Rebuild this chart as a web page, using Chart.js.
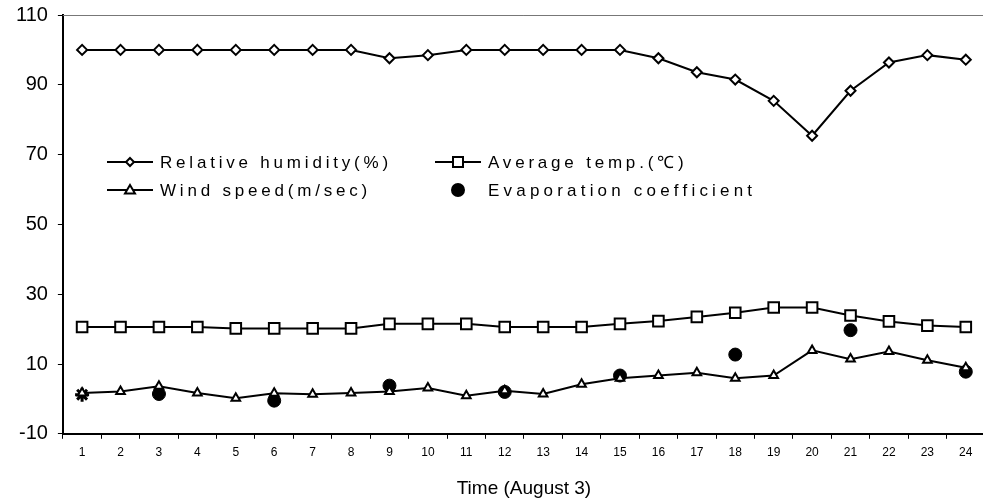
<!DOCTYPE html>
<html>
<head>
<meta charset="utf-8">
<script src="https://cdn.jsdelivr.net/npm/chart.js@4"></script>
<style>
  body { margin: 0; background: #fff; overflow: hidden; }
  #wrap { width: 995px; height: 508px; margin-top: -7px; }
</style>
</head>
<body>
<div id="wrap"><canvas id="myChart"></canvas></div>
<script>
var hours = ['1','2','3','4','5','6','7','8','9','10','11','12','13','14','15','16','17','18','19','20','21','22','23','24'];
var humidity = [100, 100, 100, 100, 100, 100, 100, 100, 97.6, 98.5, 100, 100, 100, 100, 100, 97.6, 93.6, 91.5, 85.4, 75.4, 88.3, 96.4, 98.5, 97.2];
var avgTemp = [20.6, 20.6, 20.6, 20.6, 20.2, 20.2, 20.2, 20.2, 21.5, 21.5, 21.5, 20.6, 20.6, 20.6, 21.5, 22.3, 23.5, 24.7, 26.2, 26.2, 23.9, 22.2, 21.0, 20.6];
var windSpeed = [1.7, 2.1, 3.6, 1.7, 0.2, 1.6, 1.3, 1.7, 2.1, 3.1, 0.9, 2.3, 1.4, 4.2, 5.9, 6.7, 7.5, 5.9, 6.7, 13.9, 11.4, 13.6, 11.1, 8.9];
var evapCoef = [1.2, null, 1.4, null, null, -0.5, null, null, 3.8, null, null, 2.0, null, null, 6.7, null, null, 12.7, null, null, 19.7, null, null, 7.8];
var yTicks = [-10, 10, 30, 50, 70, 90, 110];

// little marker painter for the legend
function marker(ctx, style, x, y, r) {
    ctx.beginPath();
    if (style === 'rectRot') {
        ctx.moveTo(x, y - r); ctx.lineTo(x + r, y); ctx.lineTo(x, y + r); ctx.lineTo(x - r, y); ctx.closePath();
    } else if (style === 'rect') {
        ctx.rect(x - r, y - r, 2 * r, 2 * r);
    } else if (style === 'triangle') {
        ctx.moveTo(x, y - r); ctx.lineTo(x + r, y + r * 0.7); ctx.lineTo(x - r, y + r * 0.7); ctx.closePath();
    } else {
        ctx.arc(x, y, r, 0, Math.PI * 2);
    }
}

var insideLegend = {
    id: 'insideLegend',
    afterDraw: function(chart) {
        var ctx = chart.ctx;
        // legend rows sit inside the plot, offset for the 7px wrap shift
        var items = [
            {text: 'Relative humidity(%)', style: 'rectRot', r: 4, line: true, x: 107, y: 169},
            {text: 'Average temp.(\u2103)', style: 'rect', r: 5, line: true, x: 435, y: 169},
            {text: 'Wind speed(m/sec)', style: 'triangle', r: 5, line: true, x: 107, y: 197},
            {text: 'Evaporation coefficient', style: 'circle', r: 6, line: false, x: 435, y: 197}
        ];
        ctx.save();
        items.forEach(function(it) {
            ctx.strokeStyle = '#000';
            ctx.lineWidth = 2;
            if (it.line) {
                ctx.beginPath(); ctx.moveTo(it.x, it.y); ctx.lineTo(it.x + 46, it.y); ctx.stroke();
            }
            marker(ctx, it.style, it.x + 23, it.y, it.r);
            ctx.fillStyle = it.line ? '#fff' : '#000';
            ctx.fill();
            ctx.stroke();
            ctx.fillStyle = '#000';
            ctx.font = '17px "Liberation Sans", Arial, sans-serif';
            ctx.letterSpacing = it.line ? '3.8px' : '4.2px';
            ctx.textBaseline = 'middle';
            ctx.fillText(it.text, it.x + 53, it.y + 1);
        });
        // grey frame line on top
        var a = chart.chartArea;
        ctx.letterSpacing = '0px';
        ctx.strokeStyle = '#777';
        ctx.lineWidth = 1;
        ctx.beginPath(); ctx.moveTo(a.left, a.top + 0.5); ctx.lineTo(a.right, a.top + 0.5); ctx.stroke();
        ctx.restore();
    }
};

var ctx = document.getElementById('myChart').getContext('2d');
var myChart = new Chart(ctx, {
    type: 'line',
    data: {
        labels: hours,
        datasets: [{
            label: 'Relative humidity(%)',
            data: humidity,
            borderColor: '#000',
            borderWidth: 2,
            pointStyle: 'rectRot',
            pointRadius: 5,
            pointBorderWidth: 2,
            pointBackgroundColor: '#fff',
            pointBorderColor: '#000'
        }, {
            label: 'Average temp.(\u2103)',
            data: avgTemp,
            borderColor: '#000',
            borderWidth: 2,
            pointStyle: 'rect',
            pointRadius: 7.5,
            pointBorderWidth: 2,
            pointBackgroundColor: '#fff',
            pointBorderColor: '#000'
        }, {
            label: 'Wind speed(m/sec)',
            data: windSpeed,
            borderColor: '#000',
            borderWidth: 2,
            pointStyle: 'triangle',
            pointRadius: 5,
            pointBorderWidth: 2,
            pointBackgroundColor: '#fff',
            pointBorderColor: '#000'
        }, {
            label: 'Evaporation coefficient',
            data: evapCoef,
            showLine: false,
            pointStyle: hours.map(function(h, i) { return i === 0 ? 'star' : 'circle'; }),
            pointRadius: hours.map(function(h, i) { return i === 0 ? 7 : 6.5; }),
            pointBorderWidth: hours.map(function(h, i) { return i === 0 ? 3 : 1; }),
            pointBackgroundColor: '#000',
            pointBorderColor: '#000'
        }]
    },
    options: {
        responsive: true,
        maintainAspectRatio: false,
        animation: false,
        layout: { padding: { top: 2, left: 6, right: 0, bottom: 1 } },
        plugins: {
            legend: { display: false },
            tooltip: { enabled: false }
        },
        scales: {
            x: {
                offset: true,
                grid: { offset: true, drawOnChartArea: false, tickLength: 5, color: '#000' },
                border: { color: '#000', width: 2 },
                ticks: { color: '#000', font: { size: 12, family: '"Liberation Sans", Arial' }, padding: 7 },
                title: {
                    display: true,
                    text: 'Time (August 3)',
                    color: '#000',
                    font: { size: 19, family: '"Liberation Sans", Arial' },
                    padding: { top: 10, bottom: 0 }
                }
            },
            y: {
                min: -10,
                max: 110,
                afterBuildTicks: function(axis) {
                    axis.ticks = yTicks.map(function(v) { return { value: v }; });
                },
                grid: { drawOnChartArea: false, tickLength: 5, color: '#000' },
                border: { color: '#000', width: 2 },
                ticks: { color: '#000', font: { size: 20, family: '"Liberation Sans", Arial' }, padding: 10 }
            }
        }
    },
    plugins: [insideLegend]
});
</script>
</body>
</html>
